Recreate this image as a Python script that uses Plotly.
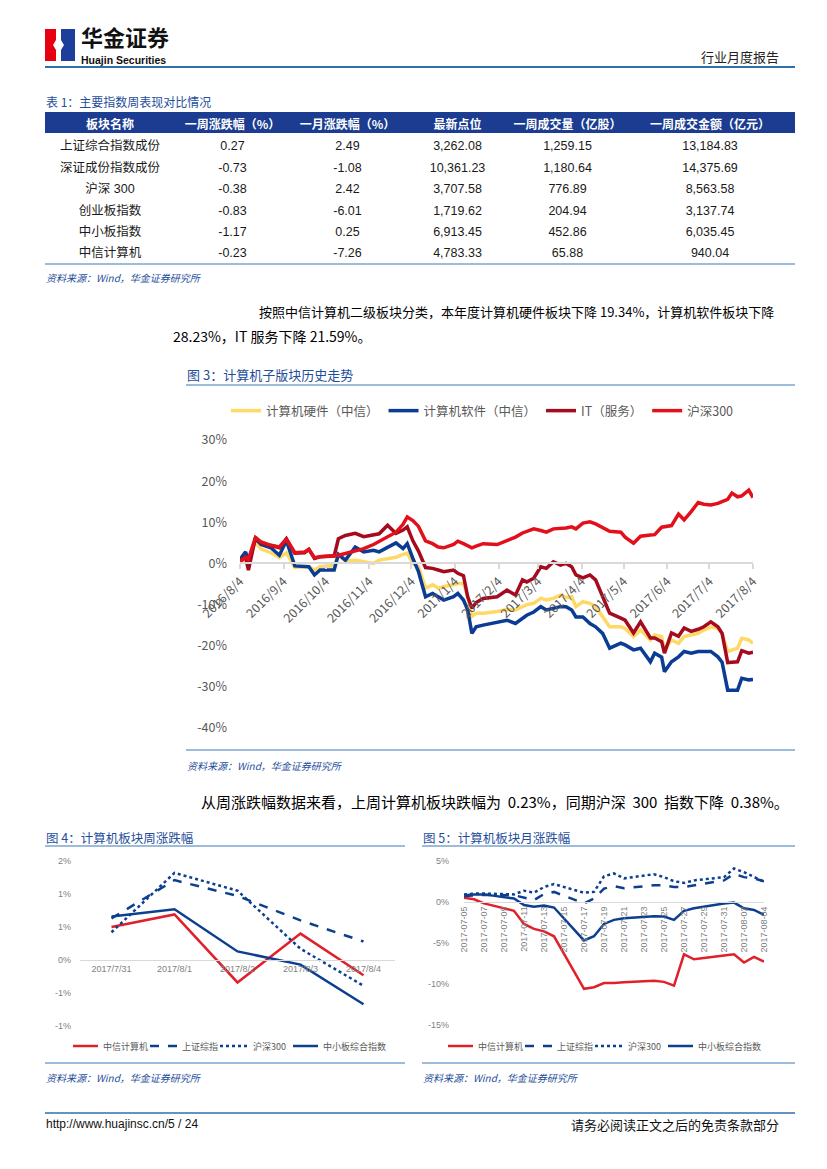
import plotly.graph_objects as go

# page is 827x1169 with an 8px body margin; figure fills the inner area
OFF = 8
FW, FH = 811, 1153
def px(x): return (x - OFF) / FW
def py(y): return 1 - (y - OFF) / FH

CJK = "Noto Sans CJK SC"
NUM = "Liberation Sans, Noto Sans CJK SC"
BLUE_TXT = "#1F4E9B"
RULE = "#3A78B5"
HEAD_FILL = "#1B3C90"
RED = "#E0202A"
NAVY = "#0D3F8F"

# ---------------- Table 1 data ----------------
TABLE_HEADER = ["板块名称", "一周涨跌幅（%）", "一月涨跌幅（%）", "最新点位", "一周成交量（亿股）", "一周成交金额（亿元）"]
TABLE_NAMES = ["上证综合指数成份", "深证成份指数成份", "沪深 300", "创业板指数", "中小板指数", "中信计算机"]
WEEK_CHG = ["0.27", "-0.73", "-0.38", "-0.83", "-1.17", "-0.23"]
MONTH_CHG = ["2.49", "-1.08", "2.42", "-6.01", "0.25", "-7.26"]
LATEST = ["3,262.08", "10,361.23", "3,707.58", "1,719.62", "6,913.45", "4,783.33"]
VOLUME = ["1,259.15", "1,180.64", "776.89", "204.94", "452.86", "65.88"]
AMOUNT = ["13,184.83", "14,375.69", "8,563.58", "3,137.74", "6,035.45", "940.04"]

# ---------------- Figure 3 data (%) ----------------
F3_DATES = ["2016-08-04", "2016-08-08", "2016-08-10", "2016-08-15", "2016-08-19", "2016-08-26",
            "2016-09-01", "2016-09-06", "2016-09-12", "2016-09-19", "2016-09-22", "2016-09-26",
            "2016-09-30", "2016-10-10", "2016-10-13", "2016-10-18", "2016-10-25", "2016-10-31",
            "2016-11-07", "2016-11-11", "2016-11-17", "2016-11-23", "2016-11-28", "2016-12-01",
            "2016-12-05", "2016-12-09", "2016-12-14", "2016-12-19", "2016-12-23", "2016-12-27",
            "2017-01-03", "2017-01-06", "2017-01-10", "2017-01-13", "2017-01-16", "2017-01-19",
            "2017-01-24", "2017-02-03", "2017-02-10", "2017-02-16", "2017-02-21", "2017-02-24",
            "2017-03-01", "2017-03-06", "2017-03-10", "2017-03-15", "2017-03-20", "2017-03-24",
            "2017-03-28", "2017-03-31", "2017-04-05", "2017-04-10", "2017-04-14", "2017-04-19",
            "2017-04-24", "2017-05-02", "2017-05-05", "2017-05-11", "2017-05-16", "2017-05-23",
            "2017-05-26", "2017-05-31", "2017-06-02", "2017-06-07", "2017-06-12", "2017-06-16",
            "2017-06-21", "2017-06-26", "2017-06-30", "2017-07-05", "2017-07-10", "2017-07-13",
            "2017-07-17", "2017-07-20", "2017-07-24", "2017-07-27", "2017-08-01", "2017-08-04"]
HARDWARE = [0.5, 1.0, 1.0, 5.2, 3.5, 2.6, 1.4, 2.6, -1.0, -1.0, -0.8, -1.6,
            -0.8, -0.5, 2.0, 0.6, 0.8, 0.4, 0.0, 0.8, 1.2, 1.5, 2.2, 2.5,
            0.0, -0.8, -6.0, -5.2, -6.0, -5.6, -5.2, -4.9, -4.9, -8.1, -12.9, -12.1,
            -12.1, -11.7, -11.2, -11.3, -10.5, -10.0, -9.7, -8.5, -8.9, -8.5, -7.7, -8.3,
            -8.1, -10.5, -9.3, -9.7, -10.5, -13.0, -15.4, -15.4, -15.8, -17.8, -16.2, -18.6,
            -17.4, -17.8, -21.0, -18.6, -19.4, -17.8, -17.4, -17.0, -16.2, -15.4, -15.8, -17.0,
            -21.4, -21.0, -20.6, -18.2, -18.6, -19.4]
SOFTWARE = [1.0, 2.8, 0.5, 6.0, 4.6, 3.8, 2.0, 5.5, -0.6, -0.8, -0.8, -2.8,
            -1.6, -1.6, 2.2, 0.8, 4.0, 2.8, 3.2, 2.8, 4.0, 5.0, 3.6, 4.8,
            1.2, -2.0, -8.1, -7.3, -8.1, -8.9, -8.1, -7.3, -8.9, -11.3, -17.0, -15.4,
            -15.0, -14.4, -13.8, -14.6, -13.4, -12.6, -11.8, -10.5, -11.3, -10.9, -10.5, -10.5,
            -11.3, -13.0, -13.0, -14.6, -15.4, -17.0, -20.6, -19.4, -19.8, -21.0, -20.6, -23.9,
            -21.8, -22.8, -26.3, -23.9, -22.7, -21.4, -21.8, -21.4, -21.4, -21.4, -22.7, -24.0,
            -30.8, -30.8, -30.8, -27.9, -28.3, -28.2]
IT_SERVICE = [0.8, 1.5, -1.6, 6.3, 5.0, 4.4, 3.8, 6.0, 2.5, 2.6, 3.4, 1.2,
              1.6, 1.8, 6.0, 6.8, 7.3, 6.5, 7.0, 7.2, 9.3, 7.3, 8.1, 8.9,
              5.5, 3.0, -1.0, -1.2, -1.6, -2.0, -1.6, -2.4, -3.0, -8.1, -10.9, -9.5,
              -8.5, -8.1, -6.5, -7.7, -4.0, -4.5, -3.6, -0.8, -1.2, 0.4, -0.4, 0.0,
              -0.8, -2.8, -3.5, -2.8, -4.0, -8.1, -12.1, -13.3, -13.8, -16.9, -14.2, -18.1,
              -18.1, -19.0, -21.8, -16.9, -17.7, -15.7, -16.5, -16.0, -15.4, -14.2, -15.4, -17.0,
              -24.1, -24.0, -23.9, -21.2, -21.8, -21.6]
HS300 = [0.4, 1.5, 1.0, 6.3, 5.2, 4.4, 4.0, 5.8, 2.6, 2.8, 3.4, 1.4,
         1.6, 1.8, 2.0, 2.4, 3.0, 3.6, 4.6, 5.4, 6.4, 7.6, 9.5, 11.3,
         10.4, 9.0, 5.5, 4.8, 4.0, 3.8, 4.6, 5.4, 4.8, 4.4, 3.8, 4.2,
         4.8, 4.6, 5.6, 6.4, 7.4, 7.8, 8.4, 8.0, 7.6, 8.4, 8.4, 8.6,
         8.9, 8.4, 9.8, 10.1, 9.6, 8.6, 7.8, 7.6, 6.4, 4.9, 6.6, 6.9,
         7.0, 8.8, 8.9, 9.2, 12.0, 10.6, 12.6, 14.8, 14.4, 14.2, 14.6, 15.0,
         15.6, 17.1, 16.2, 16.4, 17.8, 16.0]
F3_TICKS = ["2016-08-04", "2016-09-04", "2016-10-04", "2016-11-04", "2016-12-04", "2017-01-04",
            "2017-02-04", "2017-03-04", "2017-04-04", "2017-05-04", "2017-06-04", "2017-07-04", "2017-08-04"]
F3_TICKTEXT = ["2016/8/4", "2016/9/4", "2016/10/4", "2016/11/4", "2016/12/4", "2017/1/4",
               "2017/2/4", "2017/3/4", "2017/4/4", "2017/5/4", "2017/6/4", "2017/7/4", "2017/8/4"]
F3_YTICKS = [-40, -30, -20, -10, 0, 10, 20, 30]

# ---------------- Figure 4 data (%) ----------------
F4_CATS = ["2017/7/31", "2017/8/1", "2017/8/2", "2017/8/3", "2017/8/4"]
F4_ZXJSJ = [0.50, 0.69, -0.34, 0.40, -0.23]
F4_SZZZ = [0.63, 1.21, 0.97, 0.60, 0.28]
F4_HS300 = [0.42, 1.32, 1.05, 0.17, -0.39]
F4_ZXB = [0.66, 0.77, 0.13, -0.07, -0.67]
F4_YTICKS = [-1.0, -0.5, 0.0, 0.5, 1.0, 1.5]
F4_YTEXT = ["-1%", "-1%", "0%", "1%", "1%", "2%"]

# ---------------- Figure 5 data (%) ----------------
F5_DATES = ["2017-07-05", "2017-07-06", "2017-07-07", "2017-07-10", "2017-07-11", "2017-07-12",
            "2017-07-13", "2017-07-14", "2017-07-17", "2017-07-18", "2017-07-19", "2017-07-20",
            "2017-07-21", "2017-07-24", "2017-07-25", "2017-07-26", "2017-07-27", "2017-07-28",
            "2017-07-31", "2017-08-01", "2017-08-02", "2017-08-03", "2017-08-04"]
F5_ZXJSJ = [0.5, 0.3, -0.2, -1.1, -2.7, -3.3, -3.6, -4.2, -10.6, -10.4, -9.9, -9.9,
            -9.8, -9.6, -9.75, -10.2, -6.4, -7.0, -6.55, -6.4, -7.4, -6.7, -7.3]
F5_SZZZ = [0.7, 0.8, 0.85, 0.8, 0.5, 0.2, 0.95, 1.2, -0.2, 0.4, 1.6, 1.9,
           1.65, 2.0, 2.0, 1.8, 1.8, 2.0, 2.6, 3.4, 3.0, 2.85, 2.5]
F5_HS300 = [0.9, 1.0, 1.0, 0.9, 1.35, 1.1, 1.8, 2.15, 1.1, 1.2, 3.1, 3.45,
            2.85, 3.35, 3.0, 2.5, 2.3, 2.6, 3.0, 4.05, 3.6, 3.05, 2.45]
F5_ZXB = [0.8, 0.9, 0.9, 0.4, -0.4, -0.6, -0.45, -0.7, -4.7, -4.2, -2.7, -2.2,
          -2.0, -1.75, -1.8, -2.2, -1.1, -0.8, -0.2, -0.1, -0.8, -1.0, -1.6]
F5_TICKS = ["2017-07-05", "2017-07-07", "2017-07-09", "2017-07-11", "2017-07-13", "2017-07-15",
            "2017-07-17", "2017-07-19", "2017-07-21", "2017-07-23", "2017-07-25", "2017-07-27",
            "2017-07-29", "2017-07-31", "2017-08-02", "2017-08-04"]
F5_YTICKS = [-15, -10, -5, 0, 5]

SMALL_NAMES = ["中信计算机", "上证综指", "沪深300", "中小板综合指数"]
SMALL_COLORS = [RED, NAVY, NAVY, NAVY]
SMALL_DASH = ["solid", "dash", "dot", "solid"]

fig = go.Figure()

# ---------------- Table ----------------
fig.add_trace(go.Table(
    domain=dict(x=[px(45), px(795)], y=[py(275), py(112)]),
    columnwidth=[130, 115, 115, 105, 115, 170],
    header=dict(values=TABLE_HEADER, fill_color=HEAD_FILL,
                line=dict(color=HEAD_FILL, width=0), align="center", height=21,
                font=dict(color="white", size=12, family=CJK, weight="bold")),
    cells=dict(values=[TABLE_NAMES, WEEK_CHG, MONTH_CHG, LATEST, VOLUME, AMOUNT],
               fill_color="white", line=dict(color="white", width=0), align="center",
               height=21.4, font=dict(color="#1a1a1a", size=12.5, family=NUM)),
))

# ---------------- Figure 3 traces ----------------
f3_series = [("计算机硬件（中信）", HARDWARE, "#FFD966"),
             ("计算机软件（中信）", SOFTWARE, "#0B3C94"),
             ("IT（服务）", IT_SERVICE, "#A50A1F"),
             ("沪深300", HS300, "#E2101A")]
for name, vals, col in f3_series:
    fig.add_trace(go.Scatter(x=F3_DATES, y=vals, name=name, mode="lines",
                             line=dict(color=col, width=3.5), xaxis="x", yaxis="y",
                             legend="legend"))

# ---------------- Figure 4 / 5 traces ----------------
for name, vals, col, dash in zip(SMALL_NAMES, [F4_ZXJSJ, F4_SZZZ, F4_HS300, F4_ZXB], SMALL_COLORS, SMALL_DASH):
    fig.add_trace(go.Scatter(x=F4_CATS, y=vals, name=name, mode="lines", showlegend=False,
                             line=dict(color=col, width=2.5, dash=dash), xaxis="x2", yaxis="y2"))
for name, vals, col, dash in zip(SMALL_NAMES, [F5_ZXJSJ, F5_SZZZ, F5_HS300, F5_ZXB], SMALL_COLORS, SMALL_DASH):
    fig.add_trace(go.Scatter(x=F5_DATES, y=vals, name=name, mode="lines", showlegend=False,
                             line=dict(color=col, width=2.5, dash=dash), xaxis="x3", yaxis="y3"))

# ---------------- Axes ----------------
f3_ydom = [py(728), py(440)]
f3_zero = f3_ydom[0] + (0 - (-40)) / 70 * (f3_ydom[1] - f3_ydom[0])
f4_ydom = [py(1026), py(861)]
f4_zero = f4_ydom[0] + (0 - (-1.0)) / 2.5 * (f4_ydom[1] - f4_ydom[0])
f5_ydom = [py(1025), py(860.7)]
f5_zero = f5_ydom[0] + (0 - (-15)) / 20 * (f5_ydom[1] - f5_ydom[0])

fig.update_layout(
    width=FW, height=FH, margin=dict(l=0, r=0, t=0, b=0, autoexpand=False),
    paper_bgcolor="white", plot_bgcolor="white", showlegend=True,
    xaxis=dict(domain=[px(240), px(753)], type="date", range=[F3_DATES[0], F3_DATES[-1]],
               anchor="free", position=f3_zero, showgrid=False, zeroline=False,
               showline=True, linecolor="#D9D9D9", linewidth=1.5,
               ticks="outside", ticklen=5, tickcolor="#D9D9D9", tickwidth=1.5,
               tickvals=F3_TICKS, ticktext=F3_TICKTEXT, tickangle=-45,
               tickfont=dict(size=12.5, color="#595959", family=CJK)),
    yaxis=dict(domain=f3_ydom, range=[-40, 30], tickvals=F3_YTICKS,
               ticktext=["%d%%" % v for v in F3_YTICKS], showgrid=False, zeroline=False,
               showline=False, anchor="x", ticklabelstandoff=12,
               tickfont=dict(size=12.5, color="#595959", family=CJK)),
    xaxis2=dict(domain=[px(80), px(395)], type="category", range=[-0.5, 4.5],
                anchor="free", position=f4_zero, showgrid=False, zeroline=False,
                showline=True, linecolor="#D9D9D9", linewidth=1, ticks="",
                tickangle=0, tickfont=dict(size=9, color="#7F7F7F", family=NUM)),
    yaxis2=dict(domain=f4_ydom, range=[-1.0, 1.5], tickvals=F4_YTICKS, ticktext=F4_YTEXT,
                showgrid=False, zeroline=False, showline=False, anchor="x2",
                ticklabelstandoff=8, tickfont=dict(size=9, color="#7F7F7F", family=NUM)),
    xaxis3=dict(domain=[px(464), px(764)], type="date", range=[F5_DATES[0], F5_DATES[-1]],
                anchor="free", position=f5_zero, showgrid=False, zeroline=False,
                showline=True, linecolor="#D9D9D9", linewidth=1, ticks="",
                tickvals=F5_TICKS, ticktext=F5_TICKS, tickangle=-90,
                tickfont=dict(size=9, color="#7F7F7F", family=NUM)),
    yaxis3=dict(domain=f5_ydom, range=[-15, 5], tickvals=F5_YTICKS,
                ticktext=["%d%%" % v for v in F5_YTICKS], showgrid=False, zeroline=False,
                showline=False, anchor="x3", ticklabelstandoff=14,
                tickfont=dict(size=9, color="#7F7F7F", family=NUM)),
    legend=dict(orientation="h", x=px(226), y=py(411), xanchor="left", yanchor="middle",
                font=dict(size=12.5, color="#595959", family=CJK), bgcolor="rgba(0,0,0,0)",
                itemwidth=30, tracegroupgap=0),
)

# ---------------- Shapes (rules, logo, small legends) ----------------
def hline(y, x0, x1, color=RULE, width=1, dash="solid"):
    fig.add_shape(type="line", xref="paper", yref="paper", x0=px(x0), x1=px(x1),
                  y0=py(y), y1=py(y), line=dict(color=color, width=width, dash=dash))

hline(67, 45, 795, "#2F6FAE", 2)
hline(264, 45, 795, RULE, 1)
hline(385, 186, 795, RULE, 1)
hline(750, 186, 795, RULE, 1)
hline(846, 45, 405, RULE, 1)
hline(1063, 45, 405, RULE, 1)
hline(846, 422, 795, RULE, 1)
hline(1063, 422, 795, RULE, 1)
hline(1113, 45, 795, "#2F6FAE", 1.5)

def rect(x0, y0, x1, y1, color):
    fig.add_shape(type="rect", xref="paper", yref="paper", x0=px(x0), x1=px(x1),
                  y0=py(y1), y1=py(y0), fillcolor=color, line=dict(width=0))

rect(45, 29, 59, 61, "#E60012")
rect(59, 29, 75, 61, "#1D3F9A")
pts = [(56, 29), (61, 29), (61, 40), (64, 45), (61, 50), (61, 61), (56, 61), (56, 50), (53, 45), (56, 40)]
path = "M " + " L ".join("%f,%f" % (px(a), py(b)) for a, b in pts) + " Z"
fig.add_shape(type="path", xref="paper", yref="paper", path=path, fillcolor="white",
              line=dict(width=0))

# ---------------- Text ----------------
def text(x, y, s, size=12, color="#000", family=CJK, anchor="left", yanchor="middle"):
    fig.add_annotation(x=px(x), y=py(y), xref="paper", yref="paper", text=s, showarrow=False,
                       xanchor=anchor, yanchor=yanchor, borderpad=0,
                       font=dict(size=size, color=color, family=family))

# legends for figures 4 and 5 (key line + label)
LEG_OFFSETS = [(73, 98, 102), (150, 177, 181), (220, 248, 252), (293, 318, 322)]
for base in (0, 375):
    for (x0, x1, xt), name, col, dash in zip(LEG_OFFSETS, SMALL_NAMES, SMALL_COLORS, SMALL_DASH):
        hline(1046, base + x0, base + x1, col, 2.5, dash)
        text(base + xt, 1046, name, 9, "#595959")

text(80, 53, "<b>华金证券</b>", 22, "#111", yanchor="bottom")
text(80, 53, "<b>Huajin Securities</b>", 10.5, "#111", "Liberation Sans Narrow, Liberation Sans", yanchor="top")
text(780, 57, "行业月度报告", 13, "#222", CJK, "right")

text(45, 102, "表 1：主要指数周表现对比情况", 12, BLUE_TXT)
SRC = "<i>资料来源：Wind，华金证券研究所</i>"
text(45, 277, SRC, 10, BLUE_TXT)

NB = "\u00a0\u00a0"
text(258, 312, "按照中信计算机二级板块分类，本年度计算机硬件板块下降 19.34%，计算机软件板块下降", 13, "#000")
text(172, 336, "28.23%，IT 服务下降 21.59%。", 14, "#000")

text(186, 374, "图 3：计算机子版块历史走势", 13, BLUE_TXT)
text(186, 765, SRC, 10, BLUE_TXT)

text(200, 801, "从周涨跌幅数据来看，上周计算机板块跌幅为" + NB + "0.23%，同期沪深" + NB + "300"
     + NB + "指数下降" + NB + "0.38%。", 15, "#000")

text(45, 837, "图 4：计算机板块周涨跌幅", 12.5, BLUE_TXT)
text(422, 837, "图 5：计算机板块月涨跌幅", 12.5, BLUE_TXT)
text(45, 1077, SRC, 10, BLUE_TXT)
text(422, 1077, SRC, 10, BLUE_TXT)

text(45, 1124, "http://www.huajinsc.cn/5 / 24", 12, "#111", NUM)
text(780, 1124, "请务必阅读正文之后的免责条款部分", 13, "#111", CJK, "right")

fig.write_html("out.html")
